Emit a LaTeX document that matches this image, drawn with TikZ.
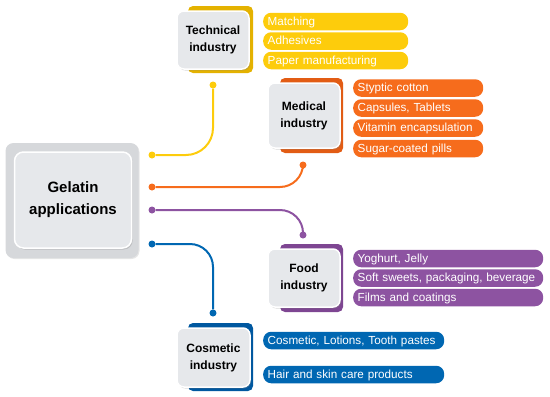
\documentclass[tikz,border=0pt]{standalone}
\usepackage{fontspec}
\setmainfont{Liberation Sans}
\usepackage{xcolor}
\definecolor{techYellow}{RGB}{253,204,12}
\definecolor{techDark}{RGB}{228,178,0}
\definecolor{medOrange}{RGB}{246,108,28}
\definecolor{medDark}{RGB}{226,92,20}
\definecolor{foodPurple}{RGB}{141,83,161}
\definecolor{foodDark}{RGB}{126,70,146}
\definecolor{cosBlue}{RGB}{0,103,178}
\definecolor{cosDark}{RGB}{0,88,160}
\definecolor{boxGray}{RGB}{230,232,235}
\definecolor{outerGray}{RGB}{214,216,219}
\usepackage{tikz}
\usetikzlibrary{shapes,positioning,shadows}
\tikzstyle{catbox}=[rectangle, rounded corners=7pt, fill=boxGray, draw=white, line width=1.5pt, drop shadow={shadow xshift=1.2pt, shadow yshift=-1.5pt, opacity=0.3}, font=\bfseries\fontsize{12}{17}\selectfont, align=center, inner sep=0pt]
\tikzstyle{catback}=[rectangle, rounded corners=5pt, inner sep=0pt]
\tikzstyle{item}=[rectangle, rounded corners=8pt, text=white, font=\fontsize{11.7}{14}\selectfont, anchor=west, inner xsep=4.5pt, inner ysep=0pt, text height=9.6pt, text depth=2.4pt, minimum height=17.5pt, align=left]
\tikzstyle{dot}=[circle, inner sep=0pt, minimum size=7pt]
\tikzstyle{link}=[line width=2pt]

\begin{document}
\begin{tikzpicture}[x=1pt, y=-1pt]
        \useasboundingbox (0,0) rectangle (550,397);

        % Gelatin box
        \node[rectangle, rounded corners=8pt, fill=outerGray, minimum width=133pt, minimum height=115pt,
              drop shadow={shadow xshift=1pt, shadow yshift=-1pt, opacity=0.2}] (gelout) at (72,200.5) {};
        \node[catbox, minimum width=117pt, minimum height=96pt, rounded corners=9pt,
              font=\bfseries\fontsize{15}{22}\selectfont] (gelatin) at (73,200) {Gelatin\\applications};

        % Technical industry
        \node[catback, fill=techDark, minimum width=65pt, minimum height=67pt] (techbg) at (220.5,39.5) {};
        \node[catbox, minimum width=72pt, minimum height=58pt] (tech) at (213,40) {Technical\\industry};
        \node[item, fill=techYellow, text width=136pt] (t1) at (263,21.5) {Matching};
        \node[item, fill=techYellow, text width=136pt] (t2) at (263,41) {Adhesives};
        \node[item, fill=techYellow, text width=136pt] (t3) at (263,60.5) {Paper manufacturing};

        % Medical industry
        \node[catback, fill=medDark, minimum width=63pt, minimum height=75pt] (medbg) at (311.5,115.5) {};
        \node[catbox, minimum width=72pt, minimum height=65pt] (med) at (304,115.5) {Medical\\industry};
        \node[item, fill=medOrange, text width=121pt] (m1) at (353,88) {Styptic cotton};
        \node[item, fill=medOrange, text width=121pt] (m2) at (353,108) {Capsules, Tablets};
        \node[item, fill=medOrange, text width=121pt] (m3) at (353,128) {Vitamin encapsulation};
        \node[item, fill=medOrange, text width=121pt] (m4) at (353,148.5) {Sugar-coated pills};

        % Food industry
        \node[catback, fill=foodDark, minimum width=63pt, minimum height=68pt] (foodbg) at (311.5,278) {};
        \node[catbox, minimum width=72pt, minimum height=58pt] (food) at (304,278) {Food\\industry};
        \node[item, fill=foodPurple, text width=181pt] (f1) at (353,258.5) {Yoghurt, Jelly};
        \node[item, fill=foodPurple, text width=181pt] (f2) at (353,278) {Soft sweets, packaging, beverage};
        \node[item, fill=foodPurple, text width=181pt] (f3) at (353,297.5) {Films and coatings};

        % Cosmetic industry
        \node[catback, fill=cosDark, minimum width=65pt, minimum height=68pt] (cosbg) at (220.5,357) {};
        \node[catbox, minimum width=73pt, minimum height=59pt] (cos) at (213.5,357.5) {Cosmetic\\industry};
        \node[item, fill=cosBlue, text width=172pt] (c1) at (263,340.5) {Cosmetic, Lotions, Tooth pastes};
        \node[item, fill=cosBlue, text width=172pt] (c2) at (263,374.5) {Hair and skin care products};

        % Dots
        \node[dot, fill=techYellow] (g1) at (152,155) {};
        \node[dot, fill=medOrange] (g2) at (152,187) {};
        \node[dot, fill=foodPurple] (g3) at (152,210) {};
        \node[dot, fill=cosBlue] (g4) at (152,244) {};
        \node[dot, fill=techYellow] (tdot) at (213,85) {};
        \node[dot, fill=medOrange] (mdot) at (303,165) {};
        \node[dot, fill=foodPurple] (fdot) at (303,235) {};
        \node[dot, fill=cosBlue] (cdot) at (213,313) {};

        % Connectors
        \draw[link, draw=techYellow, rounded corners=27pt] (tdot) |- (g1);
        \draw[link, draw=medOrange, rounded corners=23pt] (g2) -| (mdot);
        \draw[link, draw=foodPurple, rounded corners=23pt] (g3) -| (fdot);
        \draw[link, draw=cosBlue, rounded corners=23pt] (g4) -| (cdot);
      \end{tikzpicture}
\end{document}
